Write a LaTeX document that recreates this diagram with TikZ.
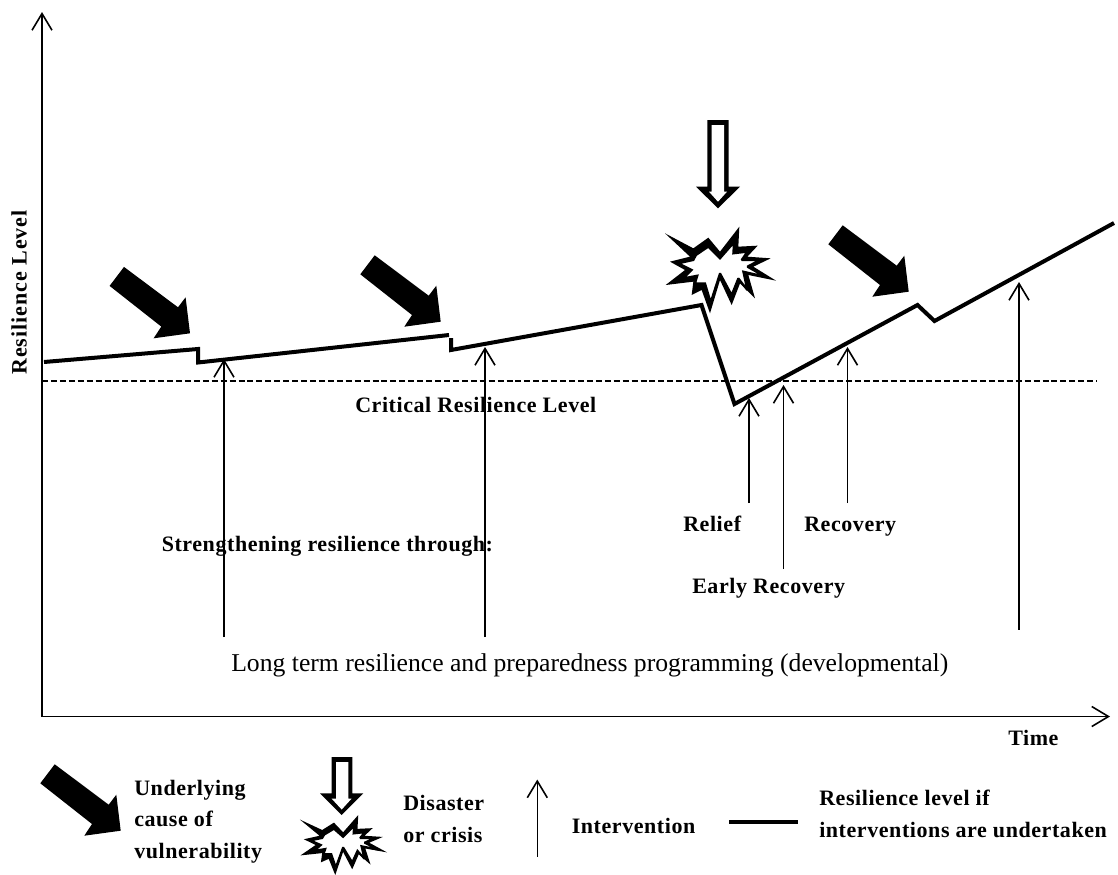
\documentclass[tikz,border=0pt]{standalone}
\usepackage{fontspec}
\setmainfont{Liberation Serif}
\usetikzlibrary{arrows.meta}
\tikzset{
 thinarrow/.style={line width=1.2pt,-{Straight Barb[length=12.5pt,width=15pt,line width=1.2pt]}},
 axisline/.style={line width=1.3pt,-{Straight Barb[length=12.5pt,width=15pt,line width=1.2pt]}},
 reslevel/.style={line width=3pt,line join=miter,line cap=butt},
 lab/.style={font=\bfseries\fontsize{16.5pt}{23.4pt}\selectfont\addfontfeature{LetterSpace=2.6},inner sep=0pt,align=left,anchor=base west},
 crit/.style={line width=.9pt,dash pattern=on 4.5pt off 2.2pt},
}
% solid arrow, given by its tip
\newcommand{\bigarr}[2]{\fill[black,shift={(#1,#2)}] (-66,-66.4)--(-80.4,-47.4)--(-28.7,-6.7)--(-36.4,5)--(0,0)--(-4.4,-36)--(-12,-26)--cycle;}
% burst: centre x, centre y, x scale, y scale, inner stroke
\newcommand{\burst}[5]{\begin{scope}[shift={(#1,#2)},xscale=#3,yscale=#4,shift={(-180,-165)}]
\fill[black] (15,55)--(100,100)--(145,68)--(180,110)--(238,35)--(235,95)--(293,92)--(262,125)--(332,130)--(280,155)--(348,197)--(265,180)--(285,250)--(240,205)--(215,270)--(180,195)--(150,295)--(125,225)--(95,240)--(100,200)--(17,210)--(75,165)--(30,140)--(90,125)--cycle;
\filldraw[fill=white,draw=black,line width=#5,miter limit=2] (108,120)--(145,95)--(180,130)--(222,82)--(220,115)--(262,110)--(245,135)--(300,135)--(262,155)--(315,185)--(250,170)--(262,225)--(235,190)--(215,240)--(180,175)--(152,262)--(135,205)--(105,205)--(112,182)--(70,190)--(95,165)--(55,145)--(100,135)--cycle;
\end{scope}}
\begin{document}
\begin{tikzpicture}[x=0.75pt,y=-0.75pt]
\useasboundingbox (0,0) rectangle (1118,875);
% axes
\coordinate (origin) at (42,716.5);
\coordinate (ytop) at (42,12);
\coordinate (xend) at (1110,716.5);
\draw[axisline] (origin) -- (ytop);
\draw[axisline] (origin) -- (xend);
\node[font=\bfseries\fontsize{16.5pt}{16pt}\selectfont\addfontfeature{LetterSpace=4.3},rotate=90,inner sep=0pt,anchor=base] (ylab) at (26.5,292.5) {Resilience Level};
\node[lab] (timelab) at (1008,745) {Time};
% critical
\coordinate (c1) at (42,381);
\coordinate (c2) at (1097,381);
\draw[crit] (c1) -- (c2);
\node[lab] (critlab) at (355,412) {Critical Resilience Level};
% level
\draw[reslevel] (44,362) -- (198,349) -- (198,362.5) -- (449,335);
\draw[reslevel] (451,338) -- (451,350) -- (701.5,305) -- (734.5,404) -- (917.5,305) -- (934.5,321) -- (1114,223);
% interventions
\coordinate (i1a) at (224,637); \coordinate (i1b) at (224,359);
\coordinate (i2a) at (485,637); \coordinate (i2b) at (485,347);
\coordinate (i3a) at (749,503); \coordinate (i3b) at (749,398);
\coordinate (i4a) at (783.5,569); \coordinate (i4b) at (783.5,385);
\coordinate (i5a) at (847.5,503); \coordinate (i5b) at (847.5,347);
\coordinate (i6a) at (1019,629.5); \coordinate (i6b) at (1019,282);
\foreach \n in {1,...,6} \draw[thinarrow] (i\n a) -- (i\n b);
\node[lab] (rel) at (683,531) {Relief};
\node[lab] (rec) at (804,531) {Recovery};
\node[lab] (erec) at (692,593) {Early Recovery};
\node[lab] (stre) at (161.5,551.5) {Strengthening resilience through:};
\node[inner sep=0pt,anchor=base west,font=\fontsize{19.25pt}{22pt}\selectfont] (lt) at (231,671.5) {Long term resilience and preparedness programming (developmental)};
% big arrows
\bigarr{190}{333.3}
\bigarr{440.7}{321.7}
\bigarr{908.7}{291.7}
% disaster
\fill[black] (707.3,120)--(728.7,120)--(728.7,186.7)--(740,186.7)--(718,208.3)--(696,186.7)--(707.3,186.7)--cycle;
\fill[white] (711.7,125)--(724,125)--(724,191.7)--(727,191.7)--(718,201.7)--(709,191.7)--(711.7,191.7)--cycle;
\burst{720}{270}{0.3333}{0.3333}{1.6pt}
% legend
\bigarr{120.7}{830.7}
\node[lab] (l1) at (134,858) {Underlying\\cause of\\vulnerability};
\fill[black] (331.7,757)--(352.3,757)--(352.3,793.3)--(363.3,793.3)--(341.7,815)--(320,793.3)--(331.7,793.3)--cycle;
\fill[white] (336,762)--(348.3,762)--(348.3,798.5)--(351.7,798.5)--(341.7,809.5)--(331.5,798.5)--(336,798.5)--cycle;
\burst{343.1}{845}{0.2613}{0.2308}{1.5pt}
\node[lab] (l2) at (403,842) {Disaster\\or crisis};
\coordinate (l3a) at (537.3,856.7); \coordinate (l3b) at (537.3,779.5);
\draw[thinarrow] (l3a) -- (l3b);
\node[lab] (l3) at (571.5,833.3) {Intervention};
\coordinate (l4a) at (729.3,821.7); \coordinate (l4b) at (798.3,821.7);
\draw[reslevel] (l4a) -- (l4b);
\node[lab] (l4) at (819,837) {Resilience level if\\interventions are undertaken};
\end{tikzpicture}
\end{document}
